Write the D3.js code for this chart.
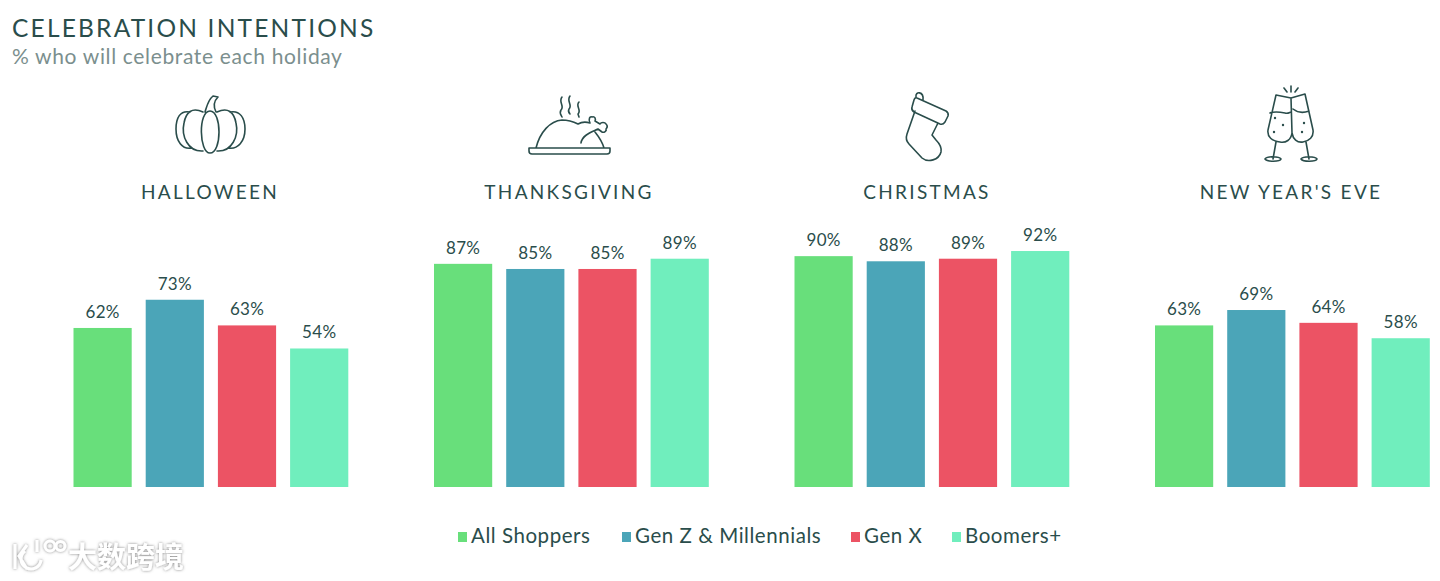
<!DOCTYPE html>
<html lang="en">
<head>
<meta charset="UTF-8">
<title>Celebration intentions</title>
<style>
  html, body { margin: 0; padding: 0; background: #fff; }
  svg { display: block; }
  text { font-family: Lato, "Open Sans", sans-serif; fill: #2a4d4b; }
</style>
</head>
<body>
<script src="https://d3js.org/d3.v7.min.js"></script>
<script>
// data
var holidays = ["HALLOWEEN", "THANKSGIVING", "CHRISTMAS", "NEW YEAR'S EVE"];
var groups = ["All Shoppers", "Gen Z & Millennials", "Gen X", "Boomers+"];
var allShoppers = [62, 87, 90, 63];
var genZMillennials = [73, 85, 88, 69];
var genX = [63, 85, 89, 64];
var boomers = [54, 89, 92, 58];
var series = [allShoppers, genZMillennials, genX, boomers];

// layout + colours
var colors = ["#68df7b", "#4ba5b8", "#ec5364", "#70eebd"];
var ink = "#2a4d4b";
var labelCentres = [210, 569, 927, 1291];
var legendX = [458, 622, 851, 952];

var width = 1440, height = 581;
var svg = d3.select("body").append("svg").attr("width", width).attr("height", height);

// scales
var x0 = d3.scalePoint().domain(holidays).range([73.5, 1155]);
var x1 = d3.scaleBand().domain(groups).range([0, 274.8]).paddingInner(0.194);
var y = d3.scaleLinear().domain([0, 100]).range([487, 230.5]);

// titles
svg.append("text").attr("x", 12).attr("y", 37).attr("font-size", 24.5)
  .attr("letter-spacing", 2.2).text("CELEBRATION INTENTIONS");
svg.append("text").attr("x", 12).attr("y", 64).attr("font-size", 21)
  .attr("letter-spacing", 0.65).style("fill", "#7b8f8e").text("% who will celebrate each holiday");

// holiday names
svg.selectAll(".holiday").data(holidays).enter().append("text")
  .attr("class", "holiday")
  .attr("x", function (d, i) { return labelCentres[i]; })
  .attr("y", 198.5).attr("text-anchor", "middle")
  .attr("font-size", 19).attr("letter-spacing", 2.3)
  .text(function (d) { return d; });

// bars
var holidayG = svg.selectAll(".group").data(holidays).enter().append("g")
  .attr("class", "group")
  .attr("transform", function (d) { return "translate(" + x0(d) + ",0)"; });

holidayG.each(function (h, hi) {
  var rows = groups.map(function (g, gi) { return { group: g, index: gi, value: series[gi][hi] }; });
  var g = d3.select(this);
  g.selectAll("rect").data(rows).enter().append("rect")
    .attr("x", function (d) { return x1(d.group); })
    .attr("y", function (d) { return y(d.value); })
    .attr("width", x1.bandwidth())
    .attr("height", function (d) { return y(0) - y(d.value); })
    .attr("fill", function (d) { return colors[d.index]; });
  g.selectAll("text").data(rows).enter().append("text")
    .attr("x", function (d) { return x1(d.group) + x1.bandwidth() / 2; })
    .attr("y", function (d) { return y(d.value) - 10; })
    .attr("text-anchor", "middle").attr("font-size", 17).attr("letter-spacing", 0.3)
    .text(function (d) { return d.value + "%"; });
});

// legend
var legend = svg.selectAll(".legend").data(groups).enter().append("g")
  .attr("class", "legend")
  .attr("transform", function (d, i) { return "translate(" + legendX[i] + ",0)"; });
legend.append("rect").attr("y", 532).attr("width", 9).attr("height", 10)
  .attr("fill", function (d, i) { return colors[i]; });
legend.append("text").attr("x", 13).attr("y", 543)
  .attr("font-size", 20.5).attr("letter-spacing", 0.55)
  .text(function (d) { return d; });

// line icons
var icons = [
  // pumpkin
  "M210,111 C198,111 199,153 210,153 C222,153 222,111 210,111 Z" +
  "M203,112 C192,107 186,112 184,123 C181,136 188,152 203,151" +
  "M217,112 C228,107 234,112 236,123 C239,136 232,152 217,151" +
  "M190,112 C180,110 176,118 176,129 C176,141 182,150 192,148" +
  "M230,112 C240,110 245,118 245,129 C245,141 238,150 228,148" +
  "M205,112 C207,106 208,100 213,96 L218,97 C214,101 213,106 216,112",
  // turkey
  "M529,148 H610 V151 Q610,154 607,154 H532 Q529,154 529,151 Z" +
  "M536,148 C540,132 550,121 562,120 C570,120 574,122 578,124 C583,121 587,122 590,123" +
  "M590,123 C588,119 590,116 592,117 C595,116 596,119 595,121 L600,124 C601,122 605,122 606,124 C608,126 607,128 606,129 C607,131 604,133 602,132 L598,129 C592,132 582,135 581,143" +
  "M604,148 C602,141 599,137 595,132" +
  "M562,97 C558,102 565,106 561,110 C559,113 561,115 562,117" +
  "M570,96 C566,101 573,105 569,109 C568,111 569,113 570,114" +
  "M579,102 C575,106 582,110 578,114 L579,117",
  // stocking
  "M917,98 L946,111 Q949,113 948,116 L945,122 Q943,125 940,124 L914,112 Q911,110 912,107 L914,100 Q915,97 917,98 Z" +
  "M916,97 C915,91 924,91 923,100" +
  "M915,111 L907,134 Q905,140 909,144 L922,158 C928,163 939,160 941,152 C942,147 939,143 936,140 L932,135 L938,123",
  // glasses
  "M1276,95 L1291,98 L1292,133 C1291,140 1286,143 1280,142 C1272,141 1267,137 1268,130 Z" +
  "M1270,113 C1275,111 1280,112 1285,113 C1288,114 1290,112 1291,112" +
  "M1276,142 L1273,159 M1265,159 C1267,156 1279,156 1281,159 C1280,162 1267,162 1265,159 Z" +
  "M1291,98 L1305,94 L1313,130 C1314,137 1309,141 1303,142 C1297,143 1293,139 1292,133" +
  "M1293,109 C1298,113 1304,113 1309,111" +
  "M1306,142 L1309,159 M1301,159 C1303,156 1315,156 1317,159 C1316,162 1303,162 1301,159 Z" +
  "M1291,86 V92 M1284,88 L1287,92 M1298,88 L1295,92"
];
svg.selectAll(".icon").data(icons).enter().append("path")
  .attr("class", "icon").attr("d", function (d) { return d; })
  .attr("fill", "none").attr("stroke", ink).attr("stroke-width", 1.6)
  .attr("stroke-linecap", "round").attr("stroke-linejoin", "round");

// bubbles in the glasses
var bubbles = [[1275, 118], [1283, 125], [1274, 132], [1304, 123], [1302, 132]];
svg.selectAll(".bubble").data(bubbles).enter().append("circle")
  .attr("class", "bubble").attr("cx", function (d) { return d[0]; }).attr("cy", function (d) { return d[1]; })
  .attr("r", 1.2).attr("fill", ink);

// watermark, white with a soft grey shadow
var shadow = svg.append("defs").append("filter").attr("id", "soft")
  .attr("x", "-20%").attr("y", "-40%").attr("width", "140%").attr("height", "180%");
shadow.append("feDropShadow").attr("dx", 0).attr("dy", 0).attr("stdDeviation", 1.8)
  .attr("flood-color", "#666").attr("flood-opacity", 0.8);
var mark = svg.append("g").attr("filter", "url(#soft)");
mark.append("path")
  .attr("d", "M15,544 V569 M27,545 L19,556 L27,569 M25,551 A10,10 0 1 0 41,560 M37,540 V552 M50,546 m-5,0 a5,5 0 1 0 10,0 a5,5 0 1 0 -10,0 M56,546 m0,0 a4.5,4.5 0 1 0 9,0 a4.5,4.5 0 1 0 -9,0")
  .attr("fill", "none").attr("stroke", "#fff").attr("stroke-width", 3);
mark.append("text").attr("x", 68).attr("y", 568).attr("font-size", 29)
  .style("font-family", '"Noto Sans CJK SC"').style("font-weight", 700).style("fill", "#fff")
  .text("大数跨境");
</script>
</body>
</html>
